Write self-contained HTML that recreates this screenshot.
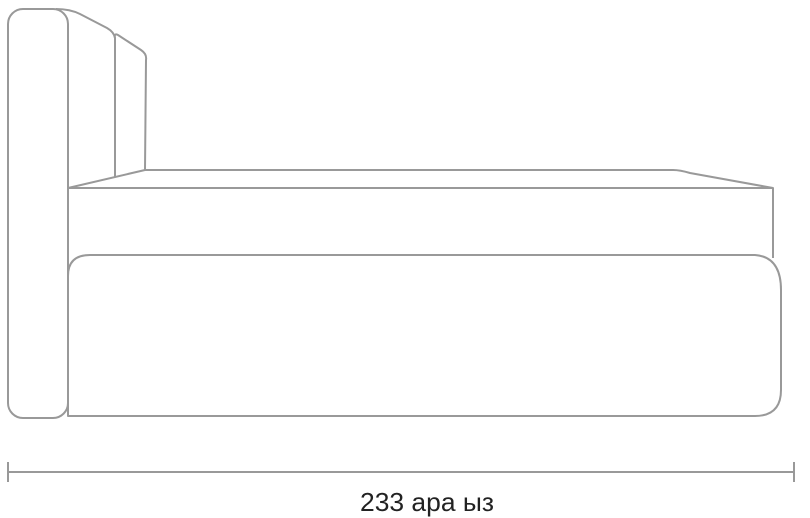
<!DOCTYPE html>
<html><head><style>body{margin:0;background:#fff;width:810px;height:518px;overflow:hidden}</style></head>
<body>
<svg width="810" height="518" viewBox="0 0 810 518" xmlns="http://www.w3.org/2000/svg" style="position:absolute;left:0;top:0">
<g fill="none" stroke="#999" stroke-width="2" stroke-linejoin="round">
<rect x="8" y="9" width="60" height="409" rx="15"/>
<path d="M56 9 Q70 9 80 14 L107 28 Q114 32 115 38 L115 177"/>
<path d="M115 38 Q114 33 118 35 L141 50 Q147 54 146 60 L145 170"/>
<path d="M68 188 L145 170 L673 170 Q680 170 690 173 L773 188 L773 258"/>
<line x1="68" y1="188" x2="773" y2="188"/>
<line x1="68" y1="188" x2="68" y2="416"/>
<path d="M68 416 L68 276 Q68 255 90 255 L755 255 Q781 257 781 290 L781 390 Q781 416 755 416 Z"/>
<line x1="8" y1="472" x2="794" y2="472"/>
<line x1="8" y1="462" x2="8" y2="482"/>
<line x1="794" y1="462" x2="794" y2="482"/>
</g>
<text x="427" y="511" text-anchor="middle" font-family="Liberation Sans, sans-serif" font-size="26" fill="#222" textLength="134" lengthAdjust="spacingAndGlyphs">233  ара ыз</text>
</svg>
</body></html>
